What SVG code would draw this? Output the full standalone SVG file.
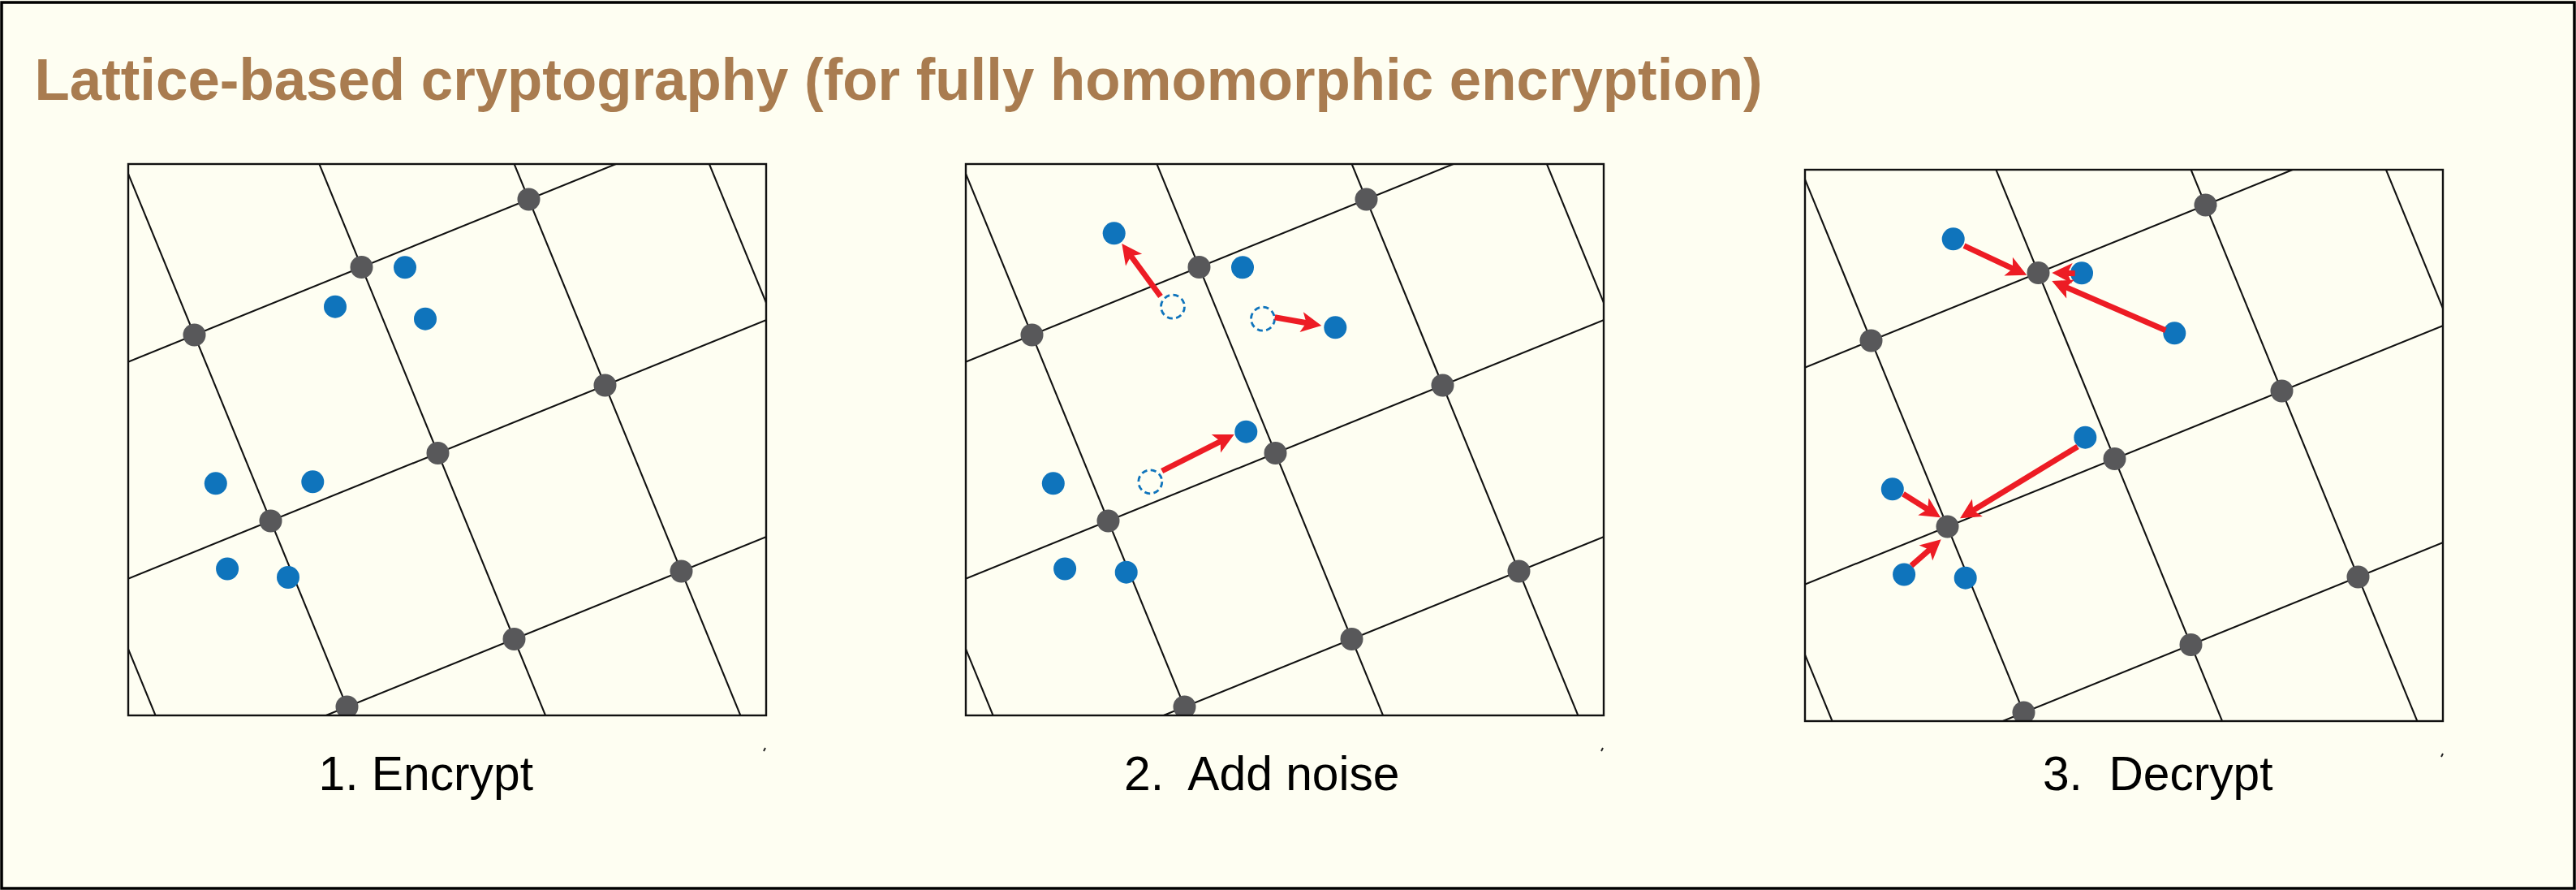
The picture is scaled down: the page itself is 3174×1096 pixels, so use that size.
<svg xmlns="http://www.w3.org/2000/svg" xmlns:xlink="http://www.w3.org/1999/xlink" width="3174" height="1096" viewBox="0 0 3174 1096">
  <style>
    .bg { fill: #FEFEF2; }
    .frame { fill: none; stroke: #000; stroke-width: 3.5; }
    .box { fill: none; stroke: #111; stroke-width: 2.4; }
    .gl { stroke: #111; stroke-width: 2.1; fill: none; }
    .lp { fill: #58585A; }
    .pt { fill: #0F74BC; }
    .ghost { fill: none; stroke: #0F74BC; stroke-width: 2.8; stroke-dasharray: 7 4.39; }
    .arw { stroke: #ED1C24; stroke-width: 7; fill: none; marker-end: url(#head); }
    .title { font-family: "Liberation Sans", Arial, sans-serif; font-weight: bold; font-size: 72px; fill: #A97C50; }
    .lbl { font-family: "Liberation Sans", Arial, sans-serif; font-size: 60px; fill: #000; white-space: pre; }
    .tick { stroke: #222; stroke-width: 2; }
  </style>
  <defs>
    <marker id="head" markerUnits="userSpaceOnUse" orient="auto" refX="0" refY="0" markerWidth="40" markerHeight="40" overflow="visible">
      <path d="M14,0 L-11,-12.5 L-5,0 L-11,12.5 Z" fill="#ED1C24"/>
    </marker>
    <clipPath id="boxclip" clipPathUnits="userSpaceOnUse">
      <rect x="0" y="0" width="786" height="679"/>
    </clipPath>
    <g id="lattice">
      <g clip-path="url(#boxclip)">
        <g class="gl">
          <line x1="-10" y1="247.6" x2="800" y2="-80.7"/>
          <line x1="-10" y1="514.7" x2="800" y2="186.4"/>
          <line x1="-10" y1="781.8" x2="800" y2="453.5"/>
          <line x1="-249.3" y1="-10" x2="38.1" y2="690"/>
          <line x1="-9" y1="-10" x2="278.3" y2="690"/>
          <line x1="231.3" y1="-10" x2="518.6" y2="690"/>
          <line x1="471.5" y1="-10" x2="758.9" y2="690"/>
          <line x1="711.8" y1="-10" x2="999.2" y2="690"/>
        </g>
        <g class="lp">
          <circle cx="81.5" cy="210.5" r="14"/>
          <circle cx="287.5" cy="127" r="14"/>
          <circle cx="493.5" cy="43.5" r="14"/>
          <circle cx="175.5" cy="439.5" r="14"/>
          <circle cx="381.5" cy="356" r="14"/>
          <circle cx="587.5" cy="272.5" r="14"/>
          <circle cx="269.5" cy="668.5" r="14"/>
          <circle cx="475.5" cy="585" r="14"/>
          <circle cx="681.5" cy="501.5" r="14"/>
        </g>
      </g>
      <rect class="box" x="0" y="0" width="786" height="679"/>
    </g>
  </defs>

  <rect class="bg" x="0" y="0" width="3174" height="1096"/>
  <rect class="frame" x="2" y="3" width="3170" height="1091"/>

  <text id="title" class="title" x="42.5" y="123.3" textLength="2129" lengthAdjust="spacingAndGlyphs">Lattice-based cryptography (for fully homomorphic encryption)</text>

  <g id="panel-1" transform="translate(158,202)">
    <use xlink:href="#lattice" href="#lattice"/>
    <g id="p1-points" class="pt">
      <circle cx="341" cy="127.3" r="14"/>
      <circle cx="255" cy="175.7" r="14"/>
      <circle cx="366" cy="190.7" r="14"/>
      <circle cx="107.8" cy="393.3" r="14"/>
      <circle cx="227.3" cy="391.3" r="14"/>
      <circle cx="122.1" cy="498.5" r="14"/>
      <circle cx="197" cy="509" r="14"/>
    </g>
    <line class="tick" x1="783" y1="723" x2="785" y2="719"/>
  </g>

  <g id="panel-2" transform="translate(1190,202)">
    <use xlink:href="#lattice" href="#lattice"/>
    <g id="p2-ghosts">
      <circle class="ghost" cx="255" cy="175.7" r="14.5"/>
      <circle class="ghost" cx="366" cy="190.7" r="14.5"/>
      <circle class="ghost" cx="227.3" cy="391.3" r="14.5"/>
    </g>
    <g id="p2-points" class="pt">
      <circle cx="182.7" cy="85.3" r="14"/>
      <circle cx="341" cy="127.3" r="14"/>
      <circle cx="455.3" cy="201.3" r="14"/>
      <circle cx="345.3" cy="329.7" r="14"/>
      <circle cx="107.8" cy="393.3" r="14"/>
      <circle cx="122.1" cy="498.5" r="14"/>
      <circle cx="197.7" cy="502.7" r="14"/>
    </g>
    <g id="p2-connectors">
      <line class="arw" x1="240" y1="163" x2="200.6" y2="109.3"/>
      <line class="arw" x1="380.7" y1="188.7" x2="424.5" y2="196.5"/>
      <line class="arw" x1="241.7" y1="378" x2="318.2" y2="339.3"/>
    </g>
    <line class="tick" x1="783" y1="723" x2="785" y2="719"/>
  </g>

  <g id="panel-3" transform="translate(2224,209)">
    <use xlink:href="#lattice" href="#lattice"/>
    <g id="p3-points" class="pt">
      <circle cx="182.7" cy="85.3" r="14"/>
      <circle cx="341" cy="127.3" r="14"/>
      <circle cx="455.3" cy="201.3" r="14"/>
      <circle cx="345.3" cy="329.7" r="14"/>
      <circle cx="107.8" cy="393.3" r="14"/>
      <circle cx="122.1" cy="498.5" r="14"/>
      <circle cx="197.7" cy="502.7" r="14"/>
    </g>
    <g id="p3-connectors">
      <line class="arw" x1="196" y1="93.7" x2="260.6" y2="123.8"/>
      <line class="arw" x1="332.7" y1="127.7" x2="318.3" y2="127.3"/>
      <line class="arw" x1="444.3" y1="197.7" x2="317.1" y2="142.6"/>
      <line class="arw" x1="336" y1="341" x2="203" y2="422"/>
      <line class="arw" x1="121" y1="399.3" x2="155.2" y2="420.8"/>
      <line class="arw" x1="131" y1="487.7" x2="157.2" y2="464.6"/>
    </g>
    <line class="tick" x1="784" y1="723" x2="786" y2="719"/>
  </g>

  <g id="labels">
    <text class="lbl" x="392.5" y="973.3" textLength="264.5" lengthAdjust="spacingAndGlyphs">1. Encrypt</text>
    <text class="lbl" x="1385" y="973.3" textLength="339.5" lengthAdjust="spacingAndGlyphs" xml:space="preserve">2.  Add noise</text>
    <text class="lbl" x="2517" y="973.3" textLength="283.5" lengthAdjust="spacingAndGlyphs" xml:space="preserve">3.  Decrypt</text>
  </g>
</svg>
